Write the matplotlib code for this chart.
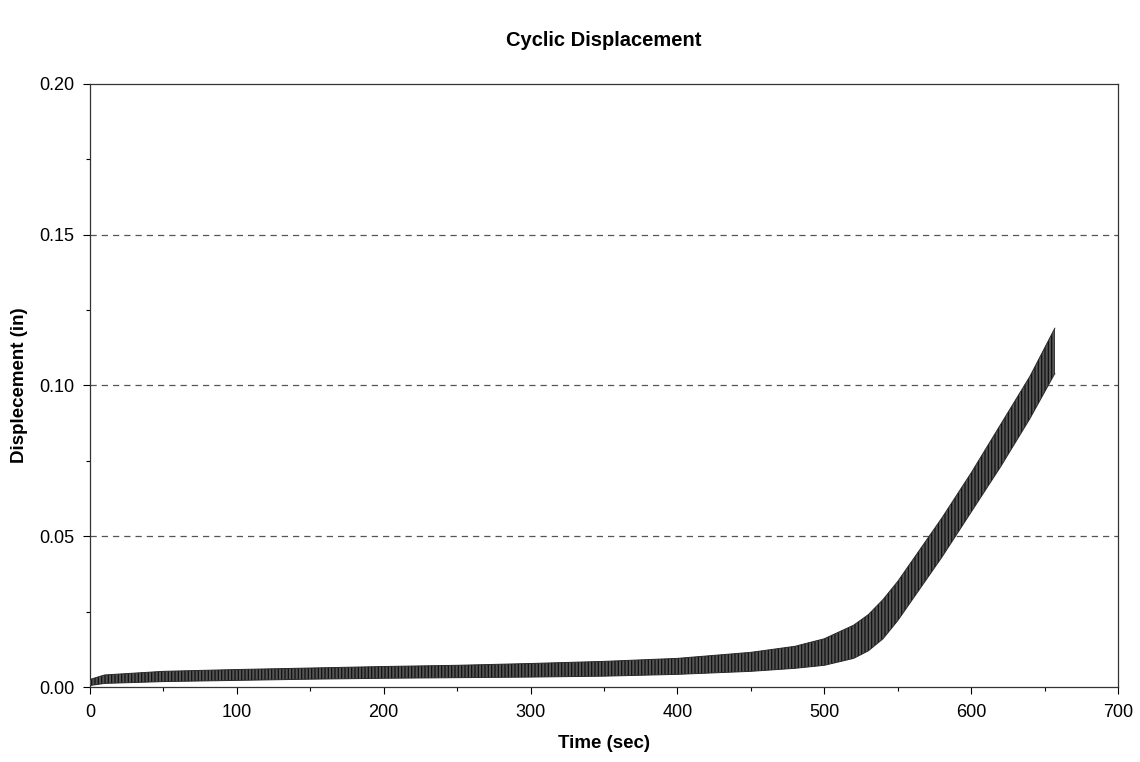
import numpy as np
import matplotlib
matplotlib.use("Agg")
import matplotlib.pyplot as plt
from matplotlib.ticker import MultipleLocator, FormatStrFormatter

plt.rcParams['font.family'] = ['Liberation Sans', 'DejaVu Sans']

# envelope of the cyclic signal
time_sec = [0, 10, 50, 100, 150, 200, 250, 300, 350, 400, 450, 480, 500,
            520, 530, 540, 550, 560, 570, 580, 600, 620, 640, 657]
disp_low = [0.0005, 0.0012, 0.0018, 0.0022, 0.0026, 0.0029, 0.0031, 0.0033,
            0.0036, 0.0042, 0.0052, 0.0062, 0.0072, 0.0095, 0.012, 0.016,
            0.022, 0.029, 0.036, 0.043, 0.058, 0.073, 0.089, 0.104]
disp_high = [0.0025, 0.0040, 0.0052, 0.0058, 0.0063, 0.0068, 0.0072, 0.0078,
             0.0085, 0.0095, 0.0115, 0.0135, 0.0160, 0.0205, 0.024, 0.029,
             0.035, 0.042, 0.049, 0.056, 0.071, 0.087, 0.103, 0.119]

fig = plt.figure(figsize=(11.4, 7.62), dpi=100)
ax = fig.add_axes([0.0789, 0.0984, 0.9018, 0.7914])

plt.rcParams['hatch.linewidth'] = 0.9
ax.fill_between(time_sec, disp_low, disp_high, facecolor='#555555',
                edgecolor='#111111', hatch='|||||', linewidth=0, zorder=3)
ax.plot(time_sec, disp_low, color='#2a2a2a', lw=0.7, zorder=4)
ax.plot(time_sec, disp_high, color='#2a2a2a', lw=0.7, zorder=4)

for yv in [0.05, 0.10, 0.15]:
    ax.axhline(yv, color='#555555', lw=0.9, ls=(0, (5, 4)), zorder=1)

ax.set_xlim(0, 700)
ax.set_ylim(0, 0.20)
ax.xaxis.set_major_locator(MultipleLocator(100))
ax.xaxis.set_minor_locator(MultipleLocator(50))
ax.yaxis.set_major_locator(MultipleLocator(0.05))
ax.yaxis.set_minor_locator(MultipleLocator(0.025))
ax.yaxis.set_major_formatter(FormatStrFormatter('%.2f'))
ax.tick_params(which='major', direction='out', length=5, width=0.8,
               labelsize=13)
ax.tick_params(axis='x', which='major', pad=7)
ax.tick_params(axis='y', which='major', pad=6)
ax.tick_params(which='minor', direction='out', length=3, width=0.8)

for s in ax.spines.values():
    s.set_color('#333333')
    s.set_linewidth(0.9)

ax.set_title('Cyclic Displacement', fontsize=14.5, fontweight='bold', pad=27)
ax.set_xlabel('Time (sec)', fontsize=13.5, fontweight='bold', labelpad=10)
ax.set_ylabel('Displecement (in)', fontsize=13.5, fontweight='bold', labelpad=8)

fig.savefig('out.png', dpi=100)
